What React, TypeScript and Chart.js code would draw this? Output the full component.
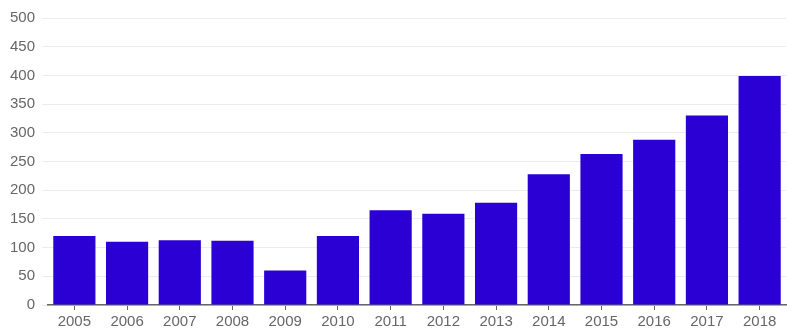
import React, { useEffect, useRef } from "react";
import { Chart, registerables } from "chart.js";

Chart.register(...registerables);

const categories = ["2005", "2006", "2007", "2008", "2009", "2010", "2011", "2012", "2013", "2014", "2015", "2016", "2017", "2018"];
const values = [120, 110, 113, 112, 60, 120, 165, 159, 178, 228, 263, 288, 330, 399];
const yMin = 0;
const yMax = 500;
const yStep = 50;

export default function App() {
  const ref = useRef<HTMLCanvasElement | null>(null);
  useEffect(() => {
    document.body.style.margin = "0";
    const canvas = ref.current;
    if (!canvas) return;
    const chart = new Chart(canvas, {
      type: "bar",
      data: {
        labels: categories,
        datasets: [
          {
            data: values,
            backgroundColor: "#2a00d4",
            borderWidth: 0,
            barPercentage: 0.8,
            categoryPercentage: 1,
          },
        ],
      },
      options: {
        animation: false,
        responsive: false,
        maintainAspectRatio: false,
        layout: { padding: { top: 18, right: 14, left: 0, bottom: 0 } },
        plugins: { legend: { display: false }, tooltip: { enabled: false } },
        scales: {
          x: {
            offset: true,
            grid: { display: true, offset: false, drawOnChartArea: false, drawTicks: true, tickLength: 5, color: "#666" },
            border: { display: true, color: "#666", width: 1.5 },
            ticks: { color: "#666", font: { family: "Liberation Sans", size: 15 }, padding: 3, maxRotation: 0 },
            afterFit: (s: any) => { s.height = 31; },
          },
          y: {
            min: yMin,
            max: yMax,
            ticks: { stepSize: yStep, color: "#666", font: { family: "Liberation Sans", size: 15 }, padding: 7 },
            grid: { color: "#ececec", tickLength: 6, drawTicks: true },
            border: { display: false },
            afterFit: (s: any) => { s.width = 48; },
          },
        },
      },
    });
    return () => chart.destroy();
  }, []);
  return <canvas ref={ref} width={800} height={336} style={{ display: "block" }} />;
}
